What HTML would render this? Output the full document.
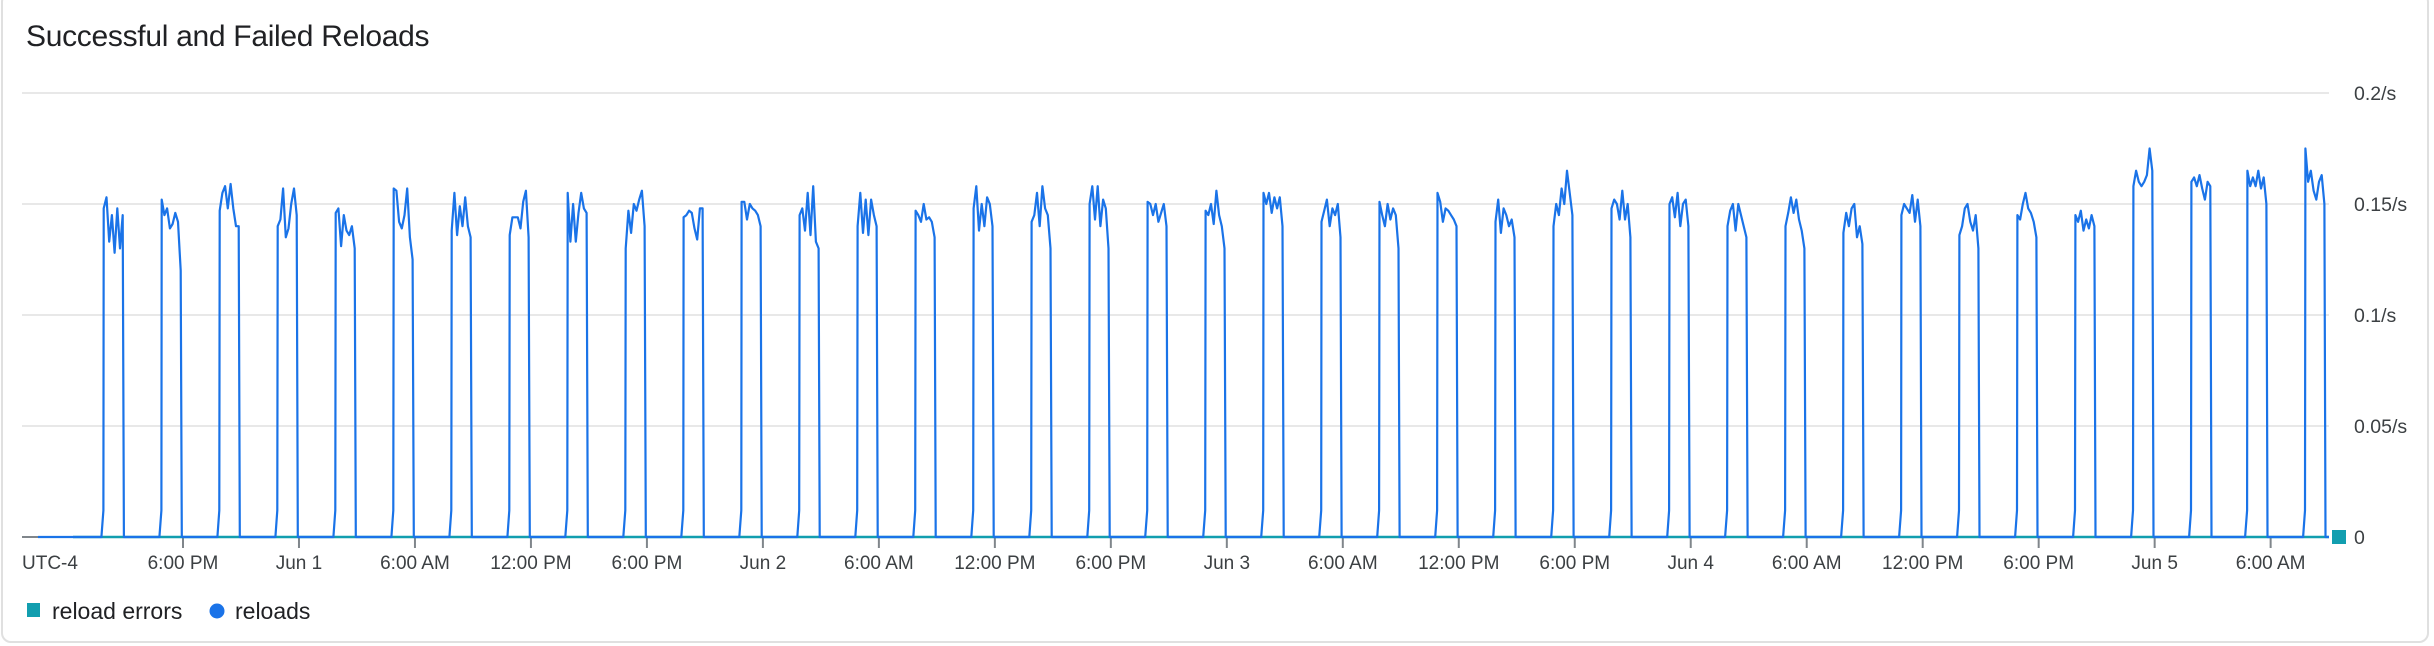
<!DOCTYPE html>
<html><head><meta charset="utf-8">
<style>
html,body{margin:0;padding:0;background:#fff;}
body{width:2434px;height:646px;overflow:hidden;font-family:"Liberation Sans",sans-serif;}
#card{position:absolute;left:1px;top:-8px;width:2428px;height:651px;border:2px solid #e0e0e0;border-radius:10px;box-sizing:border-box;}
#title{position:absolute;left:26px;top:20px;font-size:30px;color:#202124;letter-spacing:-0.3px;}
svg{position:absolute;left:0;top:0;}
</style></head>
<body>
<div id="card"></div>
<div id="title">Successful and Failed Reloads</div>
<svg id="chart" width="2434" height="646"></svg>
<script>
// hours relative to 6:00 PM May 31
const yTicks=[0,0.05,0.1,0.15,0.2];
const yTickLabels=["0","0.05/s","0.1/s","0.15/s","0.2/s"];
const xTickHours=[0,6,12,18,24,30,36,42,48,54,60,66,72,78,84,90,96,102,108];
const xTickLabels=["6:00 PM","Jun 1","6:00 AM","12:00 PM","6:00 PM","Jun 2","6:00 AM","12:00 PM","6:00 PM","Jun 3","6:00 AM","12:00 PM","6:00 PM","Jun 4","6:00 AM","12:00 PM","6:00 PM","Jun 5","6:00 AM"];
const burstStarts=[-4.1,-1.1,1.9,4.9,7.9,10.9,13.9,16.9,19.9,22.9,25.9,28.9,31.9,34.9,37.9,40.9,43.9,46.9,49.9,52.9,55.9,58.9,61.9,64.9,67.9,70.9,73.9,76.9,79.9,82.9,85.9,88.9,91.9,94.9,97.9,100.9,103.9,106.8,109.8];
const burstValues=[
[0.148,0.153,0.133,0.145,0.128,0.148,0.130,0.145],
[0.152,0.145,0.148,0.139,0.141,0.146,0.142,0.120],
[0.147,0.155,0.158,0.148,0.159,0.148,0.140,0.140],
[0.140,0.143,0.157,0.135,0.139,0.150,0.157,0.145],
[0.146,0.148,0.131,0.145,0.138,0.136,0.140,0.130],
[0.157,0.156,0.142,0.139,0.145,0.157,0.135,0.125],
[0.138,0.155,0.136,0.149,0.140,0.153,0.140,0.135],
[0.136,0.144,0.144,0.144,0.139,0.151,0.156,0.135],
[0.155,0.133,0.150,0.133,0.146,0.155,0.148,0.146],
[0.130,0.147,0.137,0.150,0.147,0.152,0.156,0.140],
[0.144,0.145,0.147,0.146,0.139,0.134,0.148,0.148],
[0.151,0.151,0.143,0.150,0.148,0.147,0.145,0.140],
[0.145,0.148,0.138,0.155,0.136,0.158,0.133,0.130],
[0.140,0.155,0.137,0.152,0.136,0.152,0.145,0.140],
[0.147,0.145,0.142,0.150,0.143,0.144,0.142,0.135],
[0.148,0.158,0.138,0.150,0.140,0.153,0.150,0.140],
[0.142,0.145,0.155,0.140,0.158,0.148,0.145,0.130],
[0.150,0.158,0.143,0.158,0.140,0.152,0.148,0.130],
[0.151,0.150,0.145,0.150,0.142,0.146,0.150,0.140],
[0.147,0.145,0.150,0.141,0.156,0.145,0.140,0.130],
[0.155,0.150,0.155,0.146,0.153,0.148,0.153,0.140],
[0.142,0.147,0.152,0.140,0.148,0.145,0.150,0.135],
[0.151,0.145,0.140,0.150,0.143,0.148,0.145,0.130],
[0.155,0.151,0.142,0.148,0.147,0.145,0.143,0.140],
[0.142,0.152,0.137,0.148,0.145,0.140,0.143,0.135],
[0.140,0.150,0.145,0.157,0.150,0.165,0.155,0.145],
[0.148,0.152,0.150,0.143,0.156,0.143,0.150,0.135],
[0.150,0.153,0.144,0.155,0.140,0.150,0.152,0.140],
[0.140,0.147,0.150,0.138,0.150,0.145,0.140,0.135],
[0.140,0.146,0.153,0.146,0.152,0.143,0.138,0.130],
[0.137,0.146,0.140,0.148,0.150,0.135,0.140,0.132],
[0.145,0.150,0.148,0.146,0.154,0.142,0.152,0.140],
[0.136,0.140,0.148,0.150,0.142,0.138,0.145,0.130],
[0.145,0.143,0.150,0.155,0.148,0.146,0.142,0.135],
[0.145,0.142,0.147,0.138,0.143,0.139,0.145,0.140],
[0.158,0.165,0.160,0.158,0.160,0.163,0.175,0.165],
[0.160,0.162,0.158,0.163,0.157,0.152,0.160,0.158],
[0.165,0.158,0.162,0.158,0.165,0.157,0.162,0.150],
[0.175,0.160,0.165,0.156,0.152,0.160,0.163,0.150]
];
const errorValue=0;

const svg=document.getElementById('chart');
const NS='http://www.w3.org/2000/svg';
const plotL=22,plotR=2329,y0=537,y02=93;
const xOf=h=>183+h*19.33;
const yOf=v=>y0-(v/0.2)*(y0-y02);
function mk(tag,attrs){const e=document.createElementNS(NS,tag);for(const k in attrs)e.setAttribute(k,attrs[k]);svg.appendChild(e);return e;}

yTicks.forEach((v,i)=>{
  if(v>0){const g=mk('line',{x1:plotL,x2:plotR,y1:yOf(v),y2:yOf(v),stroke:'#e8e8e8','stroke-width':2});
  
  }
  const t=mk('text',{x:2354,y:yOf(v)+7,'font-size':19.5,fill:'#3c4043'});
  t.textContent=yTickLabels[i];
  
  
});
xTickHours.forEach((h,i)=>{
  const x=xOf(h);
  const tk=mk('line',{x1:x,x2:x,y1:y0,y2:y0+11,stroke:'#80868b','stroke-width':2});
  
  
  const t=mk('text',{x:x,y:569,'font-size':19,fill:'#3c4043','text-anchor':'middle'});
  t.textContent=xTickLabels[i];
  
  
});
const tz=mk('text',{x:22,y:569,'font-size':19,fill:'#3c4043'});
tz.textContent='UTC-4';



const gb=mk('line',{x1:plotL,x2:73,y1:y0,y2:y0,stroke:'#80868b','stroke-width':2});


const eb=mk('line',{x1:73,x2:plotR,y1:yOf(errorValue),y2:yOf(errorValue),stroke:'#129eaf','stroke-width':2.5});



let pts=[[xOf(-7.5),yOf(0)]];
burstStarts.forEach((s,b)=>{
  const vals=burstValues[b];
  pts.push([xOf(s-0.12),yOf(0)]);
  pts.push([xOf(s-0.02),yOf(0.012)]);
  vals.forEach((v,j)=>pts.push([xOf(s+0.14*j),yOf(v)]));
  pts.push([xOf(s+1.04),yOf(0)]);
});
pts.push([plotR,yOf(0)]);
const ln=mk('polyline',{points:pts.map(p=>p[0].toFixed(1)+','+p[1].toFixed(1)).join(' '),fill:'none',stroke:'#1a73e8','stroke-width':2.2,'stroke-linejoin':'round'});



const em=mk('rect',{x:2332,y:530,width:14,height:14,fill:'#129eaf'});



const l1=mk('rect',{x:27,y:603,width:13,height:14,fill:'#129eaf'});


const l1t=mk('text',{x:52,y:619,'font-size':23,fill:'#202124'});
l1t.textContent='reload errors';


const l2=mk('circle',{cx:217,cy:611,r:7.5,fill:'#1a73e8'});


const l2t=mk('text',{x:235,y:619,'font-size':23,fill:'#202124'});
l2t.textContent='reloads';


</script>
</body></html>
